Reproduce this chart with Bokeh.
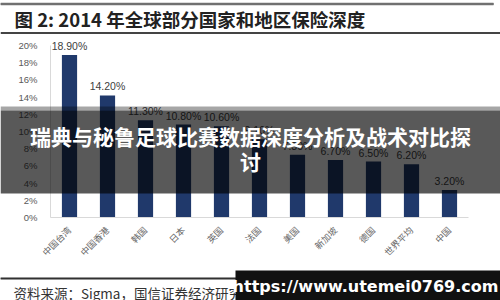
import math
from bokeh.plotting import figure
from bokeh.models import (ColumnDataSource, Range1d, LabelSet, Label, Span,
                          BoxAnnotation, PrintfTickFormatter, FixedTicker)
from bokeh.core.properties import value
from bokeh.embed import file_html
from bokeh.resources import INLINE

# ---- data ----
categories = ["中国台湾", "中国香港", "韩国", "日本", "英国", "法国", "美国",
              "新加坡", "德国", "世界平均", "中国"]
values = [18.9, 14.2, 11.3, 10.8, 10.6, 9.1, 7.3, 6.7, 6.5, 6.2, 3.2]
y_ticks = [0, 2, 4, 6, 8, 10, 12, 14, 16, 18, 20]
title_text = "图 2:  2014 年全球部分国家和地区保险深度"
source_text = "资料来源：Sigma，国信证券经济研究所整理"
overlay_line1 = "瑞典与秘鲁足球比赛数据深度分析及战术对比探"
overlay_line2 = "讨"
watermark = "https://www.utemei0769.com"

xs = list(range(len(categories)))
labels = [f"{v:.2f}%" for v in values]
src = ColumnDataSource(dict(x=xs, val=values, lab=labels))

W, H = 500, 300
X0 = 69.0
PX_CAT = 38.0
Y0 = 217.0
PX_PCT = 8.6

def dx(cx):
    return (cx - X0) / PX_CAT

def dy(cy):
    return (Y0 - cy) / PX_PCT

p = figure(width=W, height=H, output_backend="svg", toolbar_location=None,
           x_range=Range1d(dx(0), dx(W)), y_range=Range1d(dy(H), dy(0)),
           min_border_left=0, min_border_right=0,
           min_border_top=0, min_border_bottom=0)
p.outline_line_color = None
p.background_fill_color = "white"
p.border_fill_color = "white"
p.xgrid.grid_line_color = None
p.ygrid.grid_line_color = None

p.vbar(x="x", top="val", width=0.4, source=src, fill_color="#20396b",
       line_color=None)

p.yaxis.fixed_location = -0.5
p.yaxis.ticker = FixedTicker(ticks=y_ticks)
p.yaxis.bounds = (0, 20)
p.yaxis.formatter = PrintfTickFormatter(format="%d%%")
p.yaxis.axis_line_color = "#d9d9d9"
p.yaxis.major_tick_line_color = None
p.yaxis.minor_tick_line_color = None
p.yaxis.major_label_text_font = "Liberation Sans"
p.yaxis.major_label_text_font_size = "9.5px"
p.yaxis.major_label_text_color = "#595959"
p.yaxis.major_label_standoff = 7

p.xaxis.fixed_location = 0
p.xaxis.ticker = FixedTicker(ticks=xs)
p.xaxis.major_label_overrides = {i: c for i, c in zip(xs, categories)}
p.xaxis.bounds = (-0.5, len(categories) - 0.5)
p.xaxis.axis_line_color = "#d9d9d9"
p.xaxis.major_tick_line_color = None
p.xaxis.minor_tick_line_color = None
p.xaxis.major_label_orientation = math.pi / 4
p.xaxis.major_label_text_font = "Noto Sans CJK SC"
p.xaxis.major_label_text_font_size = "9px"
p.xaxis.major_label_text_color = "#666666"
p.xaxis.major_label_standoff = 5

p.add_layout(LabelSet(x="x", y="val", text="lab", source=src, y_offset=3,
                      text_align="center", text_baseline="bottom",
                      text_font=value("Liberation Sans"), text_font_size="10.5px",
                      text_color="#404040"))

def box(x0, y0, x1, y1, color, alpha=1.0, level="annotation"):
    p.add_layout(BoxAnnotation(left=dx(x0), right=dx(x1), top=dy(y0), bottom=dy(y1),
                               fill_color=color, fill_alpha=alpha, line_color=None,
                               level=level))

def label(cx, cy, text, size, color, font="Noto Sans CJK SC", bold=False,
          align="left", level="annotation"):
    p.add_layout(Label(x=dx(cx), y=dy(cy), text=text,
                       text_font=font, text_font_size=f"{size}px", text_color=color,
                       text_font_style="bold" if bold else "normal",
                       text_align=align, text_baseline="middle", level=level))

# header rules: quad glyphs, span and box
p.quad(left=[dx(0)], right=[dx(493)], top=[dy(2.5)], bottom=[dy(4.5)],
       fill_color="#707070", line_color="#707070", line_width=0.5)
p.add_layout(Span(location=dy(32.5), dimension="width", line_color="#444444",
                  line_width=2))
label(14, 18, title_text, 18.5, "#222222", bold=True)

# footnote
p.quad(left=[dx(0)], right=[dx(493)], top=[dy(277.3)], bottom=[dy(278.7)],
       fill_color="#333333", line_color="#333333", line_width=0.5)
label(13, 292, source_text, 13.5, "#333333")

# overlay band
box(0, 106, 500, 110, "#000000", 0.35, level="overlay")
box(0, 110, 500, 193, "#000000", 0.65, level="overlay")
label(250, 135, overlay_line1, 21, "white", bold=True, align="center", level="overlay")
label(250, 160, overlay_line2, 21, "white", bold=True, align="center", level="overlay")

# watermark
box(235, 270, 500, 300, "#111111", level="overlay")
label(365, 286, watermark, 16, "white", font="DejaVu Sans", bold=True,
      align="center", level="overlay")

open("out.html", "w").write(file_html(p, INLINE))
